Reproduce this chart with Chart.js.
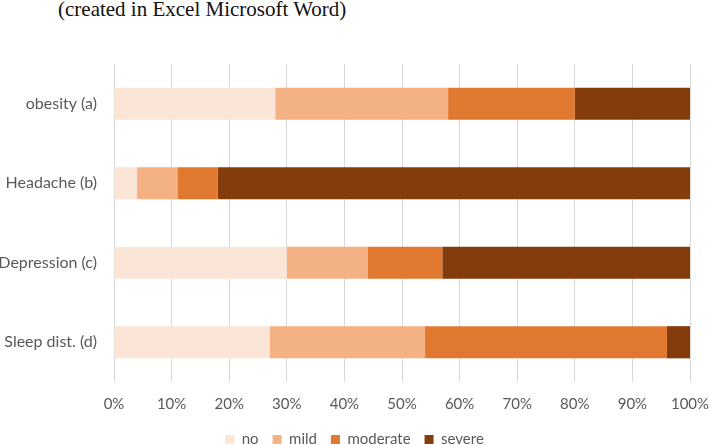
<!DOCTYPE html>
<html>
<head>
<meta charset="utf-8">
<script src="https://cdn.jsdelivr.net/npm/chart.js@4/dist/chart.umd.min.js"></script>
<style>
html,body{margin:0;padding:0;background:#fff;}
#wrap{position:relative;width:709px;height:445px;}
#title{position:absolute;left:58px;top:-3px;font-family:"Liberation Serif","DejaVu Serif",serif;font-size:21px;color:#111;white-space:nowrap;}
canvas{position:absolute;left:0;top:0;}
</style>
</head>
<body>
<div id="wrap">
<div id="title">(created in Excel Microsoft Word)</div>
<canvas id="c" width="709" height="445"></canvas>
</div>
<script>
const categories = ["obesity (a)", "Headache (b)", "Depression (c)", "Sleep dist. (d)"];
const seriesNames = ["no", "mild", "moderate", "severe"];
const noVals = [28, 4, 30, 27];
const mildVals = [30, 7, 14, 27];
const moderateVals = [22, 7, 13, 42];
const severeVals = [20, 82, 43, 4];
const tickLabels = ["0%","10%","20%","30%","40%","50%","60%","70%","80%","90%","100%"];
const colors = ["#FBE5D6", "#F4B183", "#E07830", "#843C0C"];

const allVals = [noVals, mildVals, moderateVals, severeVals];
const datasets = seriesNames.map((n, i) => ({
  label: n,
  data: allVals[i],
  backgroundColor: colors[i],
  borderWidth: 0,
  barPercentage: 0.405,
  categoryPercentage: 1.0
}));

const fam = "Lato, 'Open Sans', sans-serif";

new Chart(document.getElementById('c'), {
  type: 'bar',
  data: {labels: categories, datasets: datasets},
  options: {
    indexAxis: 'y',
    responsive: false,
    animation: false,
    devicePixelRatio: 1,
    layout: {padding: {top: 64, right: 0, left: 0, bottom: -12}},
    plugins: {
      legend: {
        position: 'bottom',
        labels: {boxWidth: 9, boxHeight: 9, color: '#595959', font: {family: fam, size: 15}, padding: 14}
      },
      title: {display: false},
      tooltip: {enabled: false}
    },
    scales: {
      x: {
        stacked: true,
        min: 0, max: 100,
        ticks: {
          stepSize: 10,
          color: '#595959',
          font: {family: fam, size: 15},
          padding: 13,
          callback: (v, i) => tickLabels[i]
        },
        grid: {color: '#D9D9D9', lineWidth: 1, drawTicks: false},
        border: {display: false},
        afterFit: (s) => { s.height = 36; s.paddingRight = 19; }
      },
      y: {
        stacked: true,
        ticks: {color: '#595959', font: {family: fam, size: 16}, padding: 17},
        grid: {display: false, drawTicks: false},
        border: {display: false},
        afterFit: (s) => { s.width = 114; }
      }
    }
  }
});
</script>
</body>
</html>
